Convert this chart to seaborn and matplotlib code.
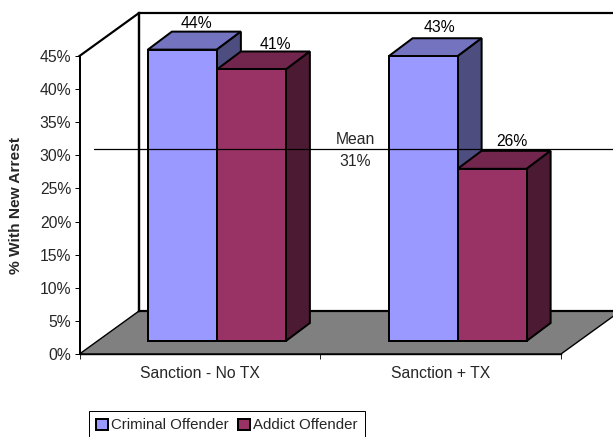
import matplotlib
matplotlib.use("Agg")
import matplotlib.pyplot as plt
import numpy as np
import pandas as pd
import seaborn as sns
from matplotlib.patches import Polygon
from matplotlib.transforms import Affine2D, IdentityTransform

# Chart data
groups = ["Sanction - No TX", "Sanction + TX"]
offender_types = ["Criminal Offender", "Addict Offender"]
criminal_values = [44, 43]
addict_values = [41, 26]
mean_value = 31
y_ticks = [0, 5, 10, 15, 20, 25, 30, 35, 40, 45]

# Colours for each face of the extruded bars
front_colors = ["#9999FF", "#993366"]
top_colors = ["#7373BF", "#73264D"]
side_colors = ["#4D4D80", "#4D1A33"]
floor_color = "#808080"

# Oblique projection offsets, in pixels
WALL_DX, WALL_DY = 59.5, 43
INSET_DX, INSET_DY = 17, 13
BAR_DX, BAR_DY = 24, 18

# Label nudges relative to the centre of the front face, in pixels
label_dx = {44: 14, 43: 16, 41: 24, 26: 20}
label_rise = {44: 22, 43: 24, 41: 20, 26: 23}

W, H = 613, 437
FONT_PX = 15.8
FONT_PT = FONT_PX * 0.72
EDGE_PX = 2.0

sns.set_style("ticks")
plt.rcParams["font.family"] = ["Liberation Sans", "DejaVu Sans"]
plt.rcParams["font.size"] = FONT_PT

fig = plt.figure(figsize=(W / 100, H / 100), dpi=100, facecolor="white")
ax = fig.add_axes([79.5 / W, (H - 354) / H, (561 - 79.5) / W, (354 - 56) / H])
ax.patch.set_visible(False)

df = pd.DataFrame({
    "group": groups * 2,
    "offender": [offender_types[0]] * 2 + [offender_types[1]] * 2,
    "value": criminal_values + addict_values,
})

sns.barplot(
    data=df, x="group", y="value", hue="offender",
    hue_order=offender_types, order=groups, palette=front_colors,
    width=0.5732, gap=0, saturation=1, edgecolor="black", linewidth=EDGE_PX * 0.72,
    errorbar=None, ax=ax,
)
ax.set_xlim(-0.5, 1.5)
ax.set_ylim(0, 45)

to_px = ax.transData.transform
shift = Affine2D().translate(INSET_DX, INSET_DY)


def add_poly(points, color, zorder, lw=EDGE_PX):
    ax.add_patch(Polygon(points, closed=True, facecolor=color, edgecolor="black",
                         linewidth=lw * 0.72, transform=IdentityTransform(),
                         clip_on=False, zorder=zorder, joinstyle="miter"))


def add_line(points, lw, zorder):
    pts = np.asarray(points)
    ax.plot(pts[:, 0], pts[:, 1], color="black", lw=lw * 0.72,
            transform=IdentityTransform(), clip_on=False, zorder=zorder,
            solid_capstyle="projecting", scalex=False, scaley=False)


# Floor and back wall of the plot box
x0, y0 = to_px((-0.5, 0))
x1, _ = to_px((1.5, 0))
_, ytop = to_px((-0.5, 45))
add_poly([(x0, y0), (x0 + WALL_DX, y0 + WALL_DY),
          (x1 + WALL_DX, y0 + WALL_DY), (x1, y0)], floor_color, 1, lw=1.4)
add_line([(x0, ytop), (x0 + WALL_DX, ytop + WALL_DY),
          (x1 + WALL_DX, ytop + WALL_DY)], 2.2, 1.5)
add_line([(x0 + WALL_DX, ytop + WALL_DY), (x0 + WALL_DX, y0 + WALL_DY)], 2.4, 1.5)
add_line([(x0 + WALL_DX, y0 + WALL_DY), (x1 + WALL_DX, y0 + WALL_DY)], 2.2, 1.5)

# Extrude every seaborn bar: slide the front face inward, then add top and side
bars = [p for c in ax.containers for p in c]
fills = [i for i in range(2) for _ in range(2)]
order = np.argsort([b.get_x() for b in bars])
for rank, idx in enumerate(order):
    bar = bars[idx]
    kind = fills[idx]
    value = int(round(bar.get_height()))
    z = 3 + rank
    bar.set_transform(ax.transData + shift)
    bar.set_clip_on(False)
    bar.set_zorder(z + 0.2)
    (lx, by), (rx, ty) = to_px([(bar.get_x(), 0),
                                (bar.get_x() + bar.get_width(), bar.get_height())])
    lx, rx = lx + INSET_DX, rx + INSET_DX
    by, ty = by + INSET_DY, ty + INSET_DY
    add_poly([(lx, ty), (lx + BAR_DX, ty + BAR_DY),
              (rx + BAR_DX, ty + BAR_DY), (rx, ty)], top_colors[kind], z)
    add_poly([(rx, by), (rx + BAR_DX, by + BAR_DY),
              (rx + BAR_DX, ty + BAR_DY), (rx, ty)], side_colors[kind], z)
    ax.annotate(f"{value}%", xy=((lx + rx) / 2, ty),
                xycoords=IdentityTransform(),
                xytext=(label_dx[value] * 0.72, label_rise[value] * 0.72),
                textcoords="offset points", ha="center", va="baseline",
                fontsize=FONT_PT, color="black", zorder=20, annotation_clip=False)

# Mean reference line with its caption
ax.plot([-0.44, 1.75], [mean_value, mean_value], color="black", lw=0.9,
        clip_on=False, zorder=15, scalex=False, scaley=False)
ax.text(0.6452, mean_value, "Mean", ha="center", va="baseline",
        transform=ax.transData + Affine2D().translate(0, 5), fontsize=FONT_PT, zorder=20)
ax.text(0.6452, mean_value, f"{mean_value}%", ha="center", va="baseline",
        transform=ax.transData + Affine2D().translate(0, -17), fontsize=FONT_PT, zorder=20)

# Axes, ticks and labels
sns.despine(ax=ax, top=True, right=True)
ax.spines["left"].set_linewidth(2.0 * 0.72)
ax.spines["bottom"].set_linewidth(1.4 * 0.72)
for side in ("left", "bottom"):
    ax.spines[side].set_color("black")
    ax.spines[side].set_zorder(2)
ax.set_yticks(y_ticks)
ax.set_yticklabels([f"{t}%" for t in y_ticks])
ax.tick_params(axis="y", length=3.6, width=0.72, pad=2.4, labelsize=FONT_PT, color="black")
ax.set_xticks([0, 1])
ax.set_xticklabels(groups)
ax.set_xticks([-0.5, 0.5, 1.5], minor=True)
ax.tick_params(axis="x", which="major", length=0, pad=8.5, labelsize=FONT_PT)
ax.tick_params(axis="x", which="minor", length=3.6, width=0.72)
ax.set_xlabel("")
ax.set_ylabel("% With New Arrest", fontweight="bold", fontsize=FONT_PT * 0.98)
ax.yaxis.set_label_coords((23 - 79.5) / (561 - 79.5), 0.5)

# Legend box running off the bottom of the canvas
handles, labels = ax.get_legend_handles_labels()
leg = ax.legend(
    handles, labels, ncol=2, loc="lower left",
    bbox_to_anchor=(88.5 / W, -3 / H), bbox_transform=fig.transFigure,
    frameon=True, fancybox=False, framealpha=1, edgecolor="black",
    fontsize=FONT_PT * 0.95, borderaxespad=0, borderpad=0.5,
    handlelength=0.8, handleheight=0.72, handletextpad=0.2, columnspacing=0.6,
)
leg.get_frame().set_linewidth(0.72)
leg.set_zorder(25)
for handle in leg.get_patches():
    handle.set_linewidth(2.0 * 0.72)

fig.savefig("out.png", dpi=100)
